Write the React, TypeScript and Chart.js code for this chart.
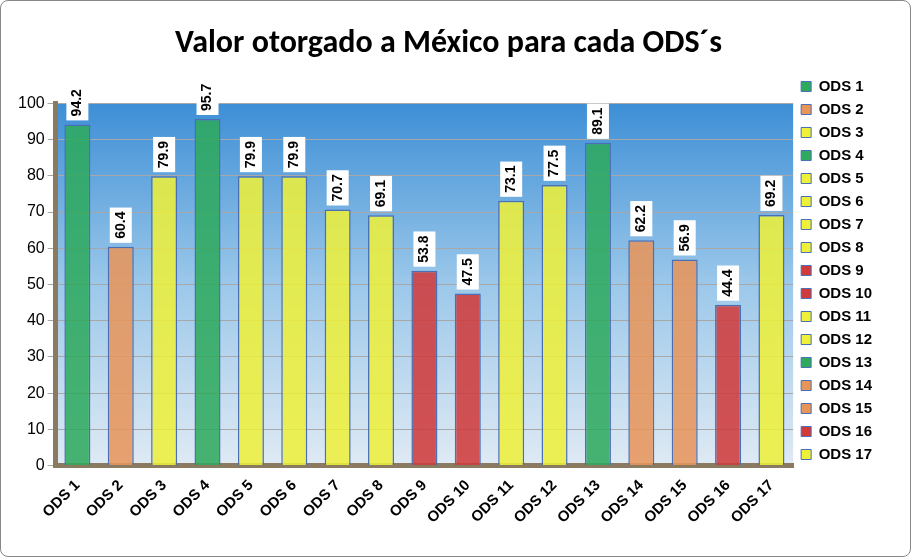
import { useEffect, useRef } from 'react';
import Chart from 'chart.js/auto';

const labels = ['ODS 1','ODS 2','ODS 3','ODS 4','ODS 5','ODS 6','ODS 7','ODS 8','ODS 9','ODS 10','ODS 11','ODS 12','ODS 13','ODS 14','ODS 15','ODS 16','ODS 17'];
const values = [94.2,60.4,79.9,95.7,79.9,79.9,70.7,69.1,53.8,47.5,73.1,77.5,89.1,62.2,56.9,44.4,69.2];
const G = '#2eaa5e', O = '#e8955a', Y = '#eef03a', R = '#d03a3a';
const colors = [G,O,Y,G,Y,Y,Y,Y,R,R,Y,Y,G,O,O,R,Y];

const bgPlugin = {
  id: 'bg',
  beforeDraw(chart: any) {
    const { ctx, chartArea: a } = chart;
    const g = ctx.createLinearGradient(0, a.top, 0, a.bottom);
    g.addColorStop(0, '#3d8fd6'); g.addColorStop(0.5, '#9cc8ea'); g.addColorStop(1, '#dfeaf4');
    ctx.save(); ctx.fillStyle = g; ctx.fillRect(a.left, a.top, a.right - a.left, a.bottom - a.top); ctx.restore();
  },
};
const labelPlugin = {
  id: 'lbl',
  afterDatasetsDraw(chart: any) {
    const { ctx } = chart;
    const meta = chart.getDatasetMeta(0);
    ctx.save();
    ctx.font = 'bold 14px "Liberation Sans", Arial';
    meta.data.forEach((bar: any, i: number) => {
      const t = values[i].toFixed(1);
      const w = ctx.measureText(t).width + 8;
      ctx.save();
      ctx.translate(bar.x, bar.y - 4);
      ctx.rotate(-Math.PI / 2);
      ctx.fillStyle = '#fff';
      ctx.fillRect(0, -11, w, 22);
      ctx.fillStyle = '#000'; ctx.textBaseline = 'middle';
      ctx.fillText(t, 4, 0);
      ctx.restore();
    });
    ctx.restore();
  },
};

export default function App() {
  const ref = useRef<HTMLCanvasElement | null>(null);
  useEffect(() => {
    document.body.style.margin = '0';
    if (!ref.current) return;
    const chart = new Chart(ref.current, {
      type: 'bar',
      data: { labels, datasets: [{ data: values, backgroundColor: colors.map(c => c + 'dd'), borderColor: '#4a6fb5', borderWidth: 1.5, barPercentage: 0.6, categoryPercentage: 1 }] },
      options: {
        animation: false, responsive: false,
        layout: { padding: { left: 14, right: 28, top: 10, bottom: 26 } },
        plugins: {
          title: { display: true, text: 'Valor otorgado a México para cada ODS´s', color: '#000', font: { size: 32, weight: 'bold', family: 'Calibri, Carlito, "Liberation Sans", Arial' }, padding: { top: 14, bottom: 40 } },
          legend: {
            position: 'right',
            labels: {
              color: '#000', boxWidth: 10, boxHeight: 10, padding: 8,
              font: { size: 15, weight: 'bold', family: '"Liberation Sans", Arial' },
              generateLabels: () => labels.map((l, i) => ({ text: l, fillStyle: colors[i], strokeStyle: '#4a6fb5', lineWidth: 1, hidden: false, index: i, datasetIndex: 0 })),
            },
          },
          tooltip: { enabled: false },
        },
        scales: {
          y: { min: 0, max: 100, ticks: { stepSize: 10, color: '#000', font: { size: 16, family: '"Liberation Sans", Arial' } }, grid: { color: '#a8a8a8' }, border: { color: '#8a7a60', width: 5 } },
          x: { ticks: { color: '#000', maxRotation: 45, minRotation: 45, font: { size: 15, weight: 'bold', family: '"Liberation Sans", Arial' } }, grid: { display: false }, border: { color: '#8a7a60', width: 5 } },
        },
      },
      plugins: [bgPlugin, labelPlugin],
    });
    return () => chart.destroy();
  }, []);
  return (
    <div style={{ width: 911, height: 557, boxSizing: 'border-box', border: '1px solid #888', borderRadius: 8, background: '#fff' }}>
      <canvas ref={ref} width={909} height={555} />
    </div>
  );
}
